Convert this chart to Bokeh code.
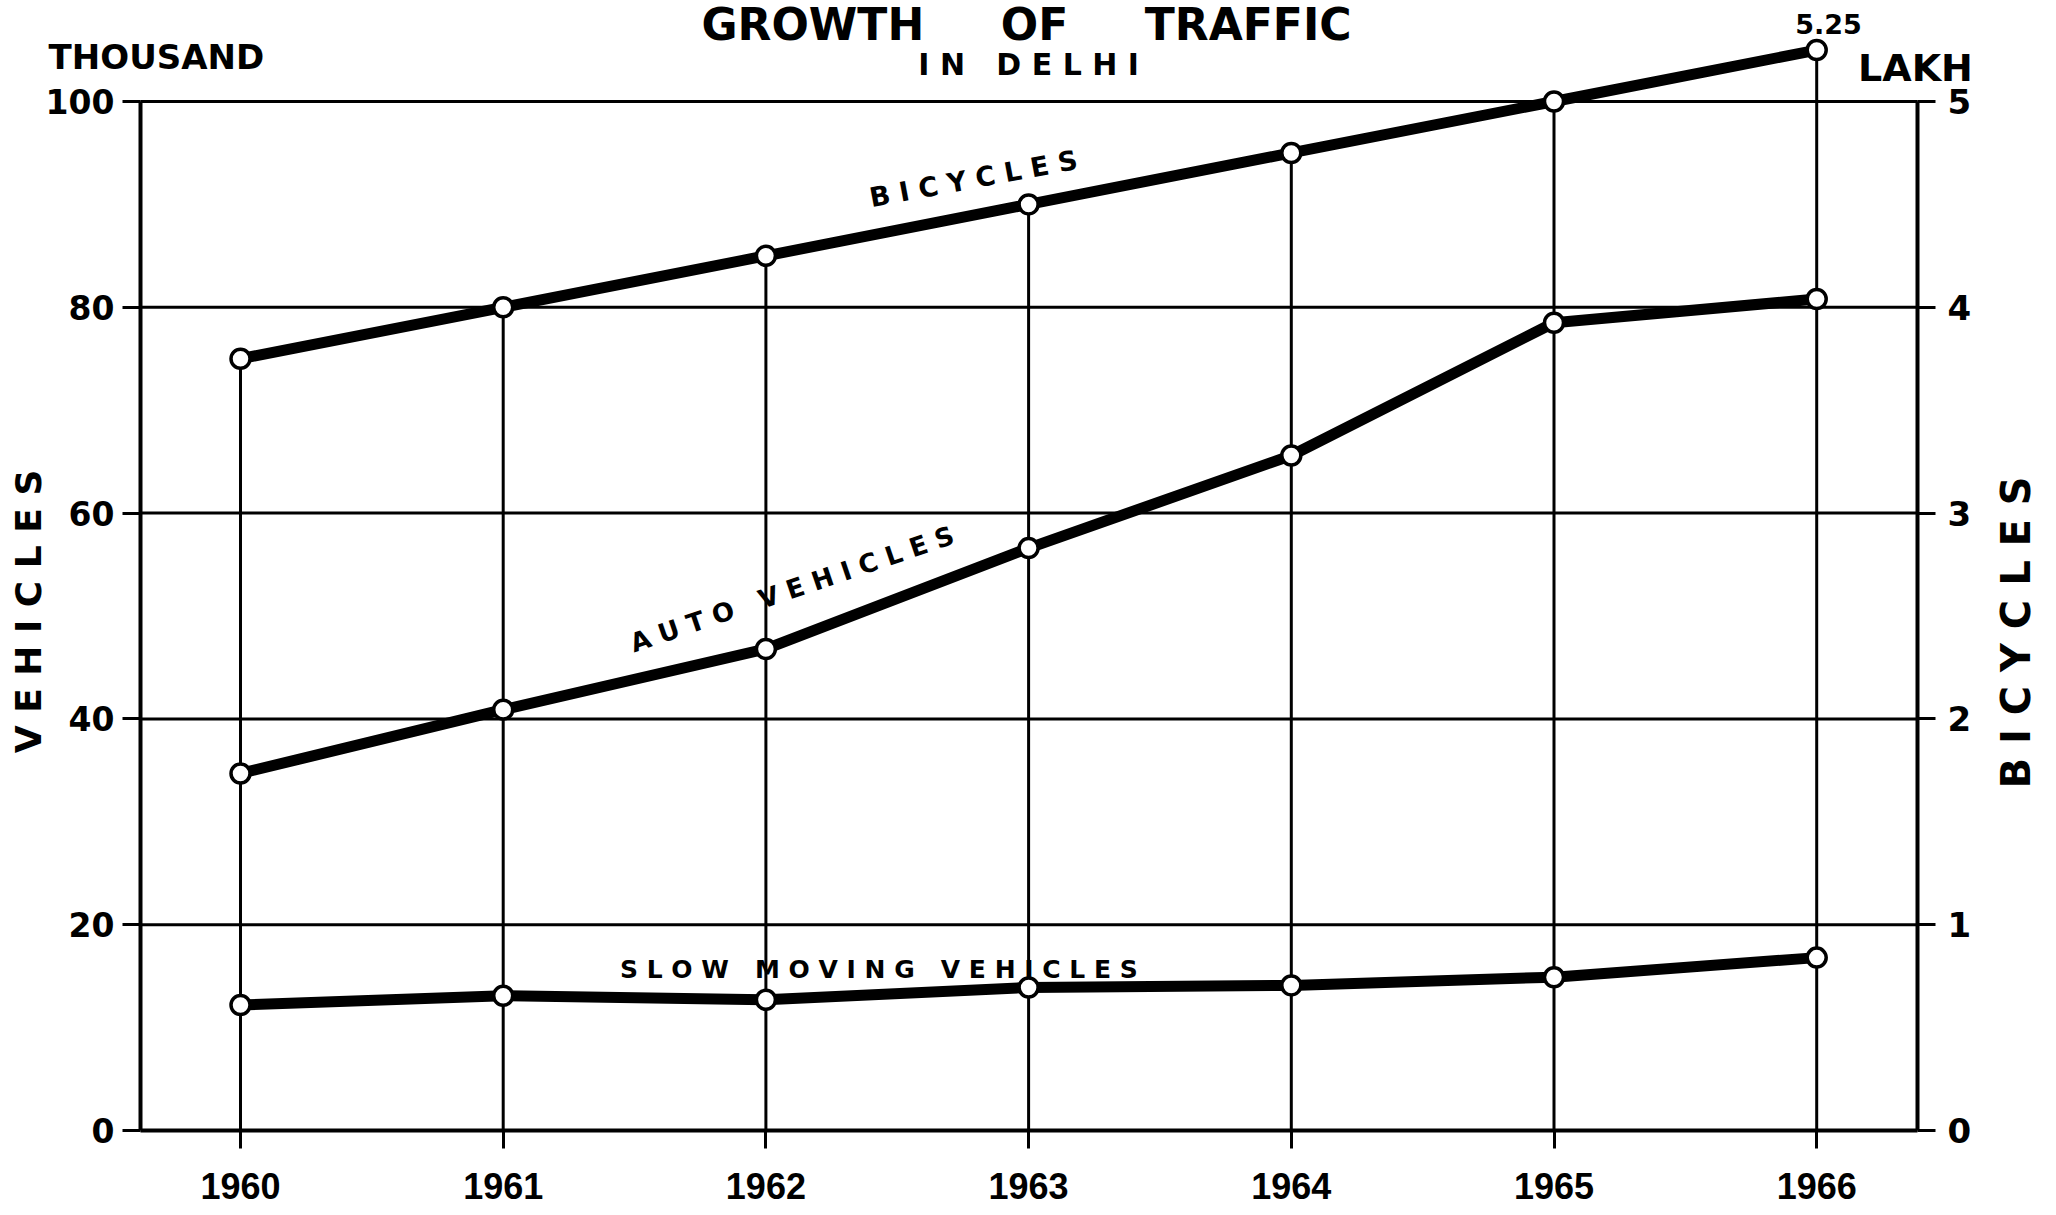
import math
from bokeh.plotting import figure
from bokeh.models import LinearAxis, Range1d, FixedTicker, ColumnDataSource
from bokeh.core.properties import value
from bokeh.embed import file_html
from bokeh.resources import INLINE

# ---------------- data ----------------
years = [1960, 1961, 1962, 1963, 1964, 1965, 1966]
bicycles_lakh = [3.75, 4.0, 4.25, 4.5, 4.75, 5.0, 5.25]
auto_vehicles_thousand = [34.7, 40.9, 46.8, 56.6, 65.6, 78.5, 80.8]
slow_moving_thousand = [12.2, 13.1, 12.7, 13.9, 14.1, 14.9, 16.8]
left_ticks = [0, 20, 40, 60, 80, 100]
right_ticks = [0, 1, 2, 3, 4, 5]
grid_ticks = [20, 40, 60, 80, 100]

FONT = "DejaVu Sans"
GAP = " \u00a0 "              # wide gap between spaced words
TGAP = " \u00a0 \u00a0 "      # gap between title words

# axis positions (x data) and canvas geometry
AX_LEFT, AX_RIGHT = 1959.619, 1966.384
W, H = 2052, 1211
X0, X1 = 1959.0864, 1966.8976
Y0, Y1 = -7.872, 109.815

src = ColumnDataSource(dict(year=years, bic=bicycles_lakh,
                            auto=auto_vehicles_thousand,
                            slow=slow_moving_thousand,
                            zero=[0] * len(years)))

p = figure(width=W, height=H,
           x_range=Range1d(X0, X1), y_range=Range1d(Y0, Y1),
           min_border_left=0, min_border_right=0,
           min_border_top=0, min_border_bottom=0,
           toolbar_location=None, output_backend="svg", title=None,
           x_axis_location=None, y_axis_location=None)
p.outline_line_color = None
p.background_fill_color = "white"
p.border_fill_color = "white"
p.xgrid.visible = False
p.ygrid.visible = False
p.extra_y_ranges = {"lakh": Range1d(Y0 / 20.0, Y1 / 20.0)}

def style_axis(ax, size, font=FONT):
    ax.axis_line_color = "black"
    ax.axis_line_width = 4
    ax.major_tick_line_color = "black"
    ax.major_tick_line_width = 3
    ax.major_tick_out = 18
    ax.major_tick_in = 0
    ax.minor_tick_line_color = None
    ax.major_label_text_font = font
    ax.major_label_text_font_style = "bold"
    ax.major_label_text_font_size = size
    ax.major_label_text_color = "black"

xa = LinearAxis(ticker=FixedTicker(ticks=years), fixed_location=0,
                bounds=(AX_LEFT, AX_RIGHT))
style_axis(xa, "36px", "Liberation Sans")
xa.major_label_standoff = 25
p.add_layout(xa, "below")

ya = LinearAxis(ticker=FixedTicker(ticks=left_ticks), fixed_location=AX_LEFT,
                bounds=(0, 100))
style_axis(ya, "33px")
ya.major_label_standoff = 8
p.add_layout(ya, "left")

ra = LinearAxis(y_range_name="lakh", ticker=FixedTicker(ticks=right_ticks),
                fixed_location=AX_RIGHT, bounds=(0, 5))
style_axis(ra, "34px")
ra.major_label_standoff = 12
p.add_layout(ra, "right")

# horizontal grid lines between the two axes
p.segment(x0=[AX_LEFT] * len(grid_ticks), y0=grid_ticks,
          x1=[AX_RIGHT] * len(grid_ticks), y1=grid_ticks,
          line_color="black", line_width=3)

# vertical year lines up to the bicycle points
p.segment(x0="year", y0="zero", x1="year", y1="bic", source=src,
          line_color="black", line_width=3, y_range_name="lakh")

# series
p.line("year", "slow", source=src, line_color="black", line_width=11)
p.line("year", "auto", source=src, line_color="black", line_width=11)
p.line("year", "bic", source=src, line_color="black", line_width=11, y_range_name="lakh")
for col, rng in (("slow", "default"), ("auto", "default"), ("bic", "lakh")):
    p.scatter("year", col, source=src, size=19, marker="circle",
              fill_color="white", line_color="black", line_width=3.5,
              y_range_name=rng)

def txt(x, y, s, size, angle=0, align="center", baseline="middle"):
    p.text(x=[x], y=[y], text=[s], angle=angle, angle_units="deg",
           text_font=value(FONT), text_font_style="bold",
           text_font_size=size, text_color="black",
           text_align=align, text_baseline=baseline)

txt(1962.992, 107.48, "GROWTH" + TGAP + "OF" + TGAP + "TRAFFIC", "44px", baseline="alphabetic")
txt(1963.0, 103.6, "I N" + GAP + "D E L H I", "30px")
txt(1966.045, 107.5, "5.25", "27px")
txt(1962.79, 92.5, "B I C Y C L E S", "27px", angle=10.5)
txt(1962.10, 52.6, "A U T O" + GAP + "V E H I C L E S", "26px", angle=18.8)
txt(1962.43, 15.6, "S L O W" + GAP + "M O V I N G" + GAP + "V E H I C L E S", "25px")

txt(1959.68, 104.37, "THOUSAND", "34px")
txt(1966.376, 103.30, "LAKH", "38px")
txt(1959.193, 50.44, "V E H I C L E S", "36px", angle=90)
txt(1966.757, 48.40, "B I C Y C L E S", "40px", angle=90)

open("out.html", "w").write(file_html(p, INLINE))
